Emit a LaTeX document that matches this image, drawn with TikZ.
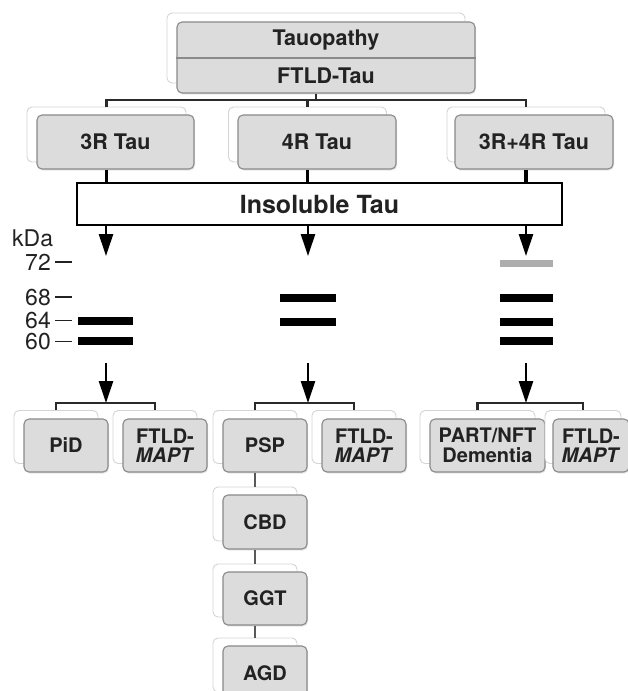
\documentclass[tikz,border=0pt]{standalone}
\usepackage{fontspec}
\setmainfont{TeX Gyre Heros}
\usetikzlibrary{arrows.meta,calc,shadows}
\definecolor{boxfill}{HTML}{DCDCDC}
\definecolor{boxline}{HTML}{8A8A8A}
\definecolor{shline}{HTML}{D4D4D4}
\definecolor{ink}{HTML}{222222}
\definecolor{lnk}{HTML}{2A2A2A}
\begin{document}
\begin{tikzpicture}[x=1pt,y=-1pt,
  backbox/.style={draw=shline, fill=white, rounded corners=5pt, line width=0.9pt, inner sep=0pt},
  frontbox/.style={draw=boxline, fill=boxfill, rounded corners=5pt, line width=1.1pt, inner sep=0pt,
     text=ink, font=\bfseries, align=center,
     drop shadow={shadow xshift=1pt, shadow yshift=-1.5pt, opacity=0.2}},
  midtxt/.style={font=\fontsize{21.5}{23}\selectfont\bfseries},
  lowtxt/.style={font=\fontsize{20}{19.5}\selectfont\bfseries},
  conn/.style={draw=lnk, line width=2.2pt},
  thick conn/.style={draw=black, line width=3.5pt},
  arr/.style={draw=black, line width=2.6pt, -{Triangle[length=22pt,width=14pt]}},
  band/.style={fill=black, inner sep=0pt, minimum height=8pt},
  kda/.style={font=\fontsize{23}{23}\selectfont, text=ink, inner sep=0pt},
  tick/.style={draw=ink, line width=1.6pt}
]
\useasboundingbox (0,0) rectangle (628,691);
\clip (0,0) rectangle (628,691);

% ---- top box
\node[backbox, minimum width=298pt, minimum height=70pt] (sTop) at (316,48) {};
\node[frontbox, minimum width=298pt, minimum height=71pt] (fTop) at (326,57.5) {};
\draw[boxline, line width=1.4pt] (fTop.west |- 0,58) -- (fTop.east |- 0,58);
\node[midtxt, text=ink] (tTau) at (326,40) {Tauopathy};
\node[midtxt, text=ink] (tFTLD) at (326,76) {FTLD-Tau};

% ---- middle boxes
\node[backbox, minimum width=159pt, minimum height=55pt] (s3R) at (106.5,134.5) {};
\node[frontbox, midtxt, minimum width=157pt, minimum height=54pt] (f3R) at (115.5,142) {3R Tau};
\node[backbox, minimum width=158pt, minimum height=55pt] (s4R) at (307.5,134.5) {};
\node[frontbox, midtxt, minimum width=158pt, minimum height=54pt] (f4R) at (317,142) {4R Tau};
\node[backbox, minimum width=158pt, minimum height=55pt] (s34) at (526,134.5) {};
\node[frontbox, midtxt, minimum width=158pt, minimum height=54pt] (f34) at (534,142) {3R+4R Tau};

% ---- top bracket
\coordinate (b0) at (316,100);
\draw[conn] (s3R.north) -- (s3R.north |- b0) -- (s34.north |- b0) -- (s34.north);
\draw[conn] (s4R.north) -- (s4R.north |- b0);
\draw[conn] (b0 |- fTop.south) -- (b0);

% ---- insoluble tau
\node[draw=black, fill=white, line width=2pt, minimum width=485pt, minimum height=42pt, inner sep=0pt,
      font=\fontsize{25}{27}\selectfont\bfseries, text=ink] (ins) at (319.5,204) {Insoluble Tau};
\draw[thick conn] (s3R.center |- f3R.south) -- (s3R.center |- ins.north);
\draw[thick conn] (s4R.center |- f4R.south) -- (s4R.center |- ins.north);
\draw[thick conn] (s34.center |- f34.south) -- (s34.center |- ins.north);

% ---- arrows to gel
\coordinate (t1) at (106,256);
\coordinate (t2) at (308,256);
\coordinate (t3) at (526,256);
\draw[arr] (t1 |- ins.south) -- (t1);
\draw[arr] (t2 |- ins.south) -- (t2);
\draw[arr] (t3 |- ins.south) -- (t3);

% ---- kDa scale
\node[kda, anchor=base west] (kdalab) at (12,246) {kDa};
\node[kda, anchor=base east] (k72) at (51,270) {72};
\node[kda, anchor=base east] (k68) at (51,305) {68};
\node[kda, anchor=base east] (k64) at (51,328.5) {64};
\node[kda, anchor=base east] (k60) at (51,349.5) {60};
\draw[tick] (55,262) -- (72,262);
\draw[tick] (55,297) -- (72,297);
\draw[tick] (55,320.5) -- (72,320.5);
\draw[tick] (55,341.5) -- (72,341.5);

% ---- bands
\node[band, minimum width=55pt] (b164) at (105.5,321) {};
\node[band, minimum width=55pt] (b160) at (105.5,341) {};
\node[band, minimum width=56pt] (b268) at (308,297.5) {};
\node[band, minimum width=56pt] (b264) at (308,321.5) {};
\node[band, minimum width=53pt, fill=black!32, minimum height=7pt] (b372) at (526.5,263) {};
\node[band, minimum width=53pt] (b368) at (526.5,297.5) {};
\node[band, minimum width=53pt] (b364) at (526.5,321.5) {};
\node[band, minimum width=53pt] (b360) at (526.5,341) {};

% ---- lower boxes
\node[backbox, minimum width=84pt, minimum height=53pt] (sPiD) at (56,437) {};
\node[frontbox, lowtxt, minimum width=84pt, minimum height=53pt] (fPiD) at (66,445.5) {PiD};
\node[backbox, minimum width=84pt, minimum height=53pt] (sM1) at (155,437) {};
\node[frontbox, lowtxt, minimum width=84pt, minimum height=53pt] (fM1) at (165,445.5) {FTLD-\\\textit{MAPT}};

\node[backbox, minimum width=84pt, minimum height=53pt] (sPSP) at (255,437) {};
\node[frontbox, lowtxt, minimum width=84pt, minimum height=53pt] (fPSP) at (265,445.5) {PSP};
\node[backbox, minimum width=84pt, minimum height=53pt] (sM2) at (354,437) {};
\node[frontbox, lowtxt, minimum width=84pt, minimum height=53pt] (fM2) at (364,445.5) {FTLD-\\\textit{MAPT}};

\node[backbox, minimum width=115pt, minimum height=53pt] (sPART) at (477.5,437) {};
\node[frontbox, lowtxt, minimum width=115pt, minimum height=53pt] (fPART) at (487.5,445.5) {PART/NFT\\Dementia};
\node[backbox, minimum width=76pt, minimum height=53pt] (sM3) at (583,437) {};
\node[frontbox, lowtxt, minimum width=76pt, minimum height=53pt] (fM3) at (591,445.5) {FTLD-\\\textit{MAPT}};

% ---- column under PSP
\node[backbox, minimum width=84pt, minimum height=54pt] (sCBD) at (255,514) {};
\node[frontbox, lowtxt, minimum width=84pt, minimum height=54pt] (fCBD) at (265,522) {CBD};
\node[backbox, minimum width=84pt, minimum height=53pt] (sGGT) at (255,590.5) {};
\node[frontbox, lowtxt, minimum width=84pt, minimum height=53pt] (fGGT) at (265,598.5) {GGT};
\node[backbox, minimum width=84pt, minimum height=54pt] (sAGD) at (255,665) {};
\node[frontbox, lowtxt, minimum width=84pt, minimum height=54pt] (fAGD) at (265,673) {AGD};
\draw[conn, draw=black!65, line width=1.8pt] (sCBD.north |- fPSP.south) -- (sCBD.north);
\draw[conn, draw=black!65, line width=1.8pt] (sGGT.north |- fCBD.south) -- (sGGT.north);
\draw[conn, draw=black!65, line width=1.8pt] (sAGD.north |- fGGT.south) -- (sAGD.north);

% ---- lower arrows and brackets
\coordinate (u1) at (106,363);
\coordinate (u2) at (308,363);
\coordinate (u3) at (526,363);
\coordinate (v1) at (106,403);
\coordinate (v2) at (308,403);
\coordinate (v3) at (526,403);
\draw[arr] (u1) -- (v1);
\draw[arr] (u2) -- (v2);
\draw[arr] (u3) -- (v3);
\draw[conn] (sPiD.north) -- (sPiD.north |- v1) -- (sM1.north |- v1) -- (sM1.north);
\draw[conn] (sPSP.north) -- (sPSP.north |- v2) -- (sM2.north |- v2) -- (sM2.north);
\draw[conn] (sPART.north) -- (sPART.north |- v3) -- (sM3.north |- v3) -- (sM3.north);
\end{tikzpicture}
\end{document}
